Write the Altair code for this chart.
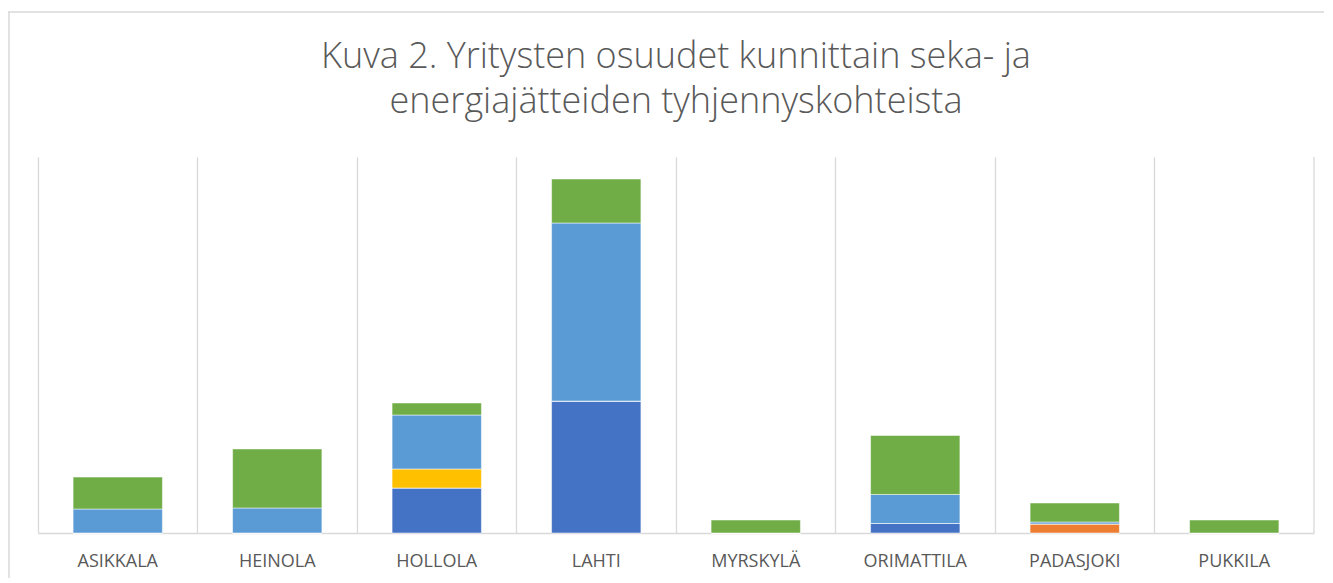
import altair as alt
import pandas as pd

kunnat = ["ASIKKALA", "HEINOLA", "HOLLOLA", "LAHTI", "MYRSKYLÄ", "ORIMATTILA", "PADASJOKI", "PUKKILA"]
sarja1 = [0.0, 0.0, 4.79, 14.04, 0.0, 1.01, 0.0, 0.0]    # tummansininen
sarja2 = [0.0, 0.0, 0.0, 0.0, 0.0, 0.0, 0.96, 0.0]       # oranssi
sarja3 = [0.0, 0.0, 2.02, 0.0, 0.0, 0.0, 0.0, 0.0]       # keltainen
sarja4 = [2.55, 2.66, 5.74, 18.94, 0.0, 3.09, 0.21, 0.0] # vaaleansininen
sarja5 = [3.40, 6.28, 1.28, 4.68, 1.38, 6.28, 2.02, 1.38] # vihreä

series_names = ["Sarja1", "Sarja2", "Sarja3", "Sarja4", "Sarja5"]
series_vals = [sarja1, sarja2, sarja3, sarja4, sarja5]
colors = ["#4472C4", "#ED7D31", "#FFC000", "#5B9BD5", "#70AD47"]

rows = []
for si, (name, vals) in enumerate(zip(series_names, series_vals)):
    for k, v in zip(kunnat, vals):
        rows.append({"kunta": k, "sarja": name, "arvo": v, "jarj": si})
df = pd.DataFrame(rows)

W, H = 1276, 376

bars = alt.Chart(df).mark_bar(stroke="white", strokeWidth=0.5, width=alt.RelativeBandSize(0.56)).encode(
    x=alt.X("kunta:N", sort=kunnat, title=None,
            scale=alt.Scale(paddingInner=0, paddingOuter=0),
            axis=alt.Axis(labelAngle=0, ticks=False, grid=True, bandPosition=0,
                          gridColor="#D9D9D9", gridWidth=1.3,
                          domainColor="#D9D9D9", domainWidth=1.5,
                          labelFont="Open Sans", labelFontSize=18, labelColor="#595959",
                          labelPadding=19)),
    y=alt.Y("arvo:Q", stack="zero", scale=alt.Scale(domain=[0, 40]), axis=None),
    color=alt.Color("sarja:N", scale=alt.Scale(domain=series_names, range=colors), legend=None),
    order=alt.Order("jarj:Q"),
)

right_edge = alt.Chart().mark_rule(color="#D9D9D9", strokeWidth=1.3).encode(
    x=alt.value(W), y=alt.value(0), y2=alt.value(H)
)
frame_top = alt.Chart().mark_rule(color="#D9D9D9", strokeWidth=1.5, clip=False).encode(
    x=alt.value(-30), x2=alt.value(W + 10), y=alt.value(-145)
)
frame_left = alt.Chart().mark_rule(color="#D9D9D9", strokeWidth=1.5, clip=False).encode(
    x=alt.value(-29), y=alt.value(-145), y2=alt.value(H + 45)
)

chart = alt.layer(bars, right_edge, frame_top, frame_left).properties(
    width=W, height=H,
    title=alt.TitleParams(
        text=["Kuva 2. Yritysten osuudet kunnittain seka- ja", "energiajätteiden tyhjennyskohteista"],
        font="Open Sans", fontSize=36, fontWeight=300, color="#595959",
        lineHeight=45, offset=0, dy=146, baseline="bottom", anchor="middle",
    ),
    autosize=alt.AutoSizeParams(type="none"),
    padding={"left": 30, "top": 149, "right": 10, "bottom": 45},
).configure_view(stroke=None)

chart.save("out.html", embed_options={"renderer": "svg", "actions": False})
